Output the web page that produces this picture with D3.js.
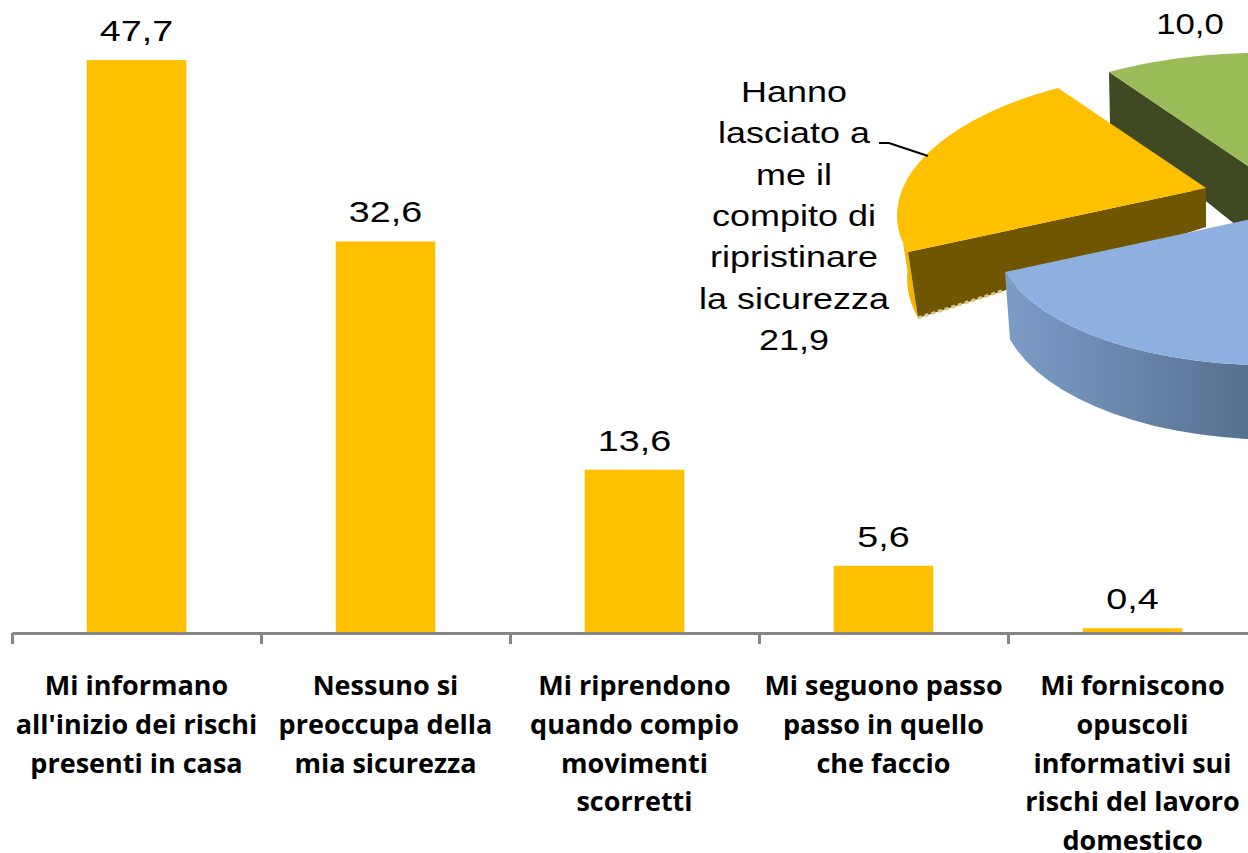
<!DOCTYPE html>
<meta charset="utf-8">
<style>
  body { margin: 0; background: #fff; }
  svg { display: block; }
  text { fill: #000; }
  .val { font-family: "Liberation Sans", sans-serif; font-size: 29px; }
  .cat { font-family: "Open Sans", sans-serif; font-weight: 700; font-size: 27px; }
</style>
<script src="https://d3js.org/d3.v7.min.js"></script>
<div id="chart"></div>
<script>
  // bar chart data
  var categories = [
    ["Mi informano", "all'inizio dei rischi", "presenti in casa"],
    ["Nessuno si", "preoccupa della", "mia sicurezza"],
    ["Mi riprendono", "quando compio", "movimenti", "scorretti"],
    ["Mi seguono passo", "passo in quello", "che faccio"],
    ["Mi forniscono", "opuscoli", "informativi sui", "rischi del lavoro", "domestico"]
  ];
  var barValues = [47.7, 32.6, 13.6, 5.6, 0.4];

  // pie data (clockwise, the blue slice runs off the page)
  var pieValues = [21.9, 10.0, 68.1];
  var pieLabelLines = ["Hanno", "lasciato a", "me il", "compito di", "ripristinare", "la sicurezza", "21,9"];
  var pieLabelGreen = "10,0";

  var width = 1248, height = 853;
  var baseY = 633, px = 12.01;

  var svg = d3.select("#chart").append("svg")
    .attr("width", width)
    .attr("height", height);

  var x = d3.scaleBand()
    .domain(d3.range(categories.length))
    .range([12, 1257])
    .paddingInner(0.6)
    .paddingOuter(0.3);
  var y = d3.scaleLinear()
    .domain([0, 50])
    .range([baseY, baseY - 50 * px]);

  function fmt(v) { return d3.format(".1f")(v).replace(".", ","); }

  // --- pie: a perspective map of the unit circle, fitted on the orange slice
  var startAngle = 250 * Math.PI / 180;
  var pie = d3.pie().sort(null).startAngle(startAngle).endAngle(startAngle + 2 * Math.PI);
  var arcs = pie(pieValues);

  function solve(A, b) {
    var n = b.length;
    A = A.map(function (r, i) { return r.concat(b[i]); });
    for (var i = 0; i < n; i++) {
      var p = i;
      for (var k = i + 1; k < n; k++) if (Math.abs(A[k][i]) > Math.abs(A[p][i])) p = k;
      var t = A[i]; A[i] = A[p]; A[p] = t;
      for (var k2 = i + 1; k2 < n; k2++) {
        var f = A[k2][i] / A[i][i];
        for (var j = i; j <= n; j++) A[k2][j] -= f * A[i][j];
      }
    }
    var out = new Array(n);
    for (var i2 = n - 1; i2 >= 0; i2--) {
      var s = A[i2][n];
      for (var j2 = i2 + 1; j2 < n; j2++) s -= A[i2][j2] * out[j2];
      out[i2] = s / A[i2][i2];
    }
    return out;
  }

  var a0 = arcs[0].startAngle, a1 = arcs[0].endAngle, am = (a0 + a1) / 2;
  var anchors = [
    [0, 0, 1206, 188],
    [Math.sin(a0), Math.cos(a0), 908, 252],
    [Math.sin(am), Math.cos(am), 926, 155],
    [Math.sin(a1), Math.cos(a1), 1058, 88]
  ];
  var rowsA = [], rowsB = [];
  anchors.forEach(function (q) {
    rowsA.push([q[0], q[1], 1, 0, 0, 0, -q[0] * q[2], -q[1] * q[2]]); rowsB.push(q[2]);
    rowsA.push([0, 0, 0, q[0], q[1], 1, -q[0] * q[3], -q[1] * q[3]]); rowsB.push(q[3]);
  });
  var H = solve(rowsA, rowsB);

  function project(angle, r) {
    var u = r * Math.sin(angle), v = r * Math.cos(angle);
    var w = H[6] * u + H[7] * v + 1;
    return [(H[0] * u + H[1] * v + H[2]) / w, (H[3] * u + H[4] * v + H[5]) / w];
  }

  // per slice look: explode offset, depth at the centre, lean of the underside, colours
  var sliceStyle = [
    { dx: 0, dy: 0, inner: 39, lean: 10, top: "#ffc000", face: "#705600", wall: "#f2b600" },
    { dx: 51, dy: -16, inner: 70, lean: 1, top: "#9bbb59", face: "#3f4a23", wall: "#3f4a23" },
    { dx: 97, dy: 20, inner: 60, lean: 5, top: "#8db0e0", face: "#6f8fb8", wall: "url(#blueWall)" }
  ];

  function rimDepth(yy) { return 47 + 0.075 * yy; }
  function topPt(i, angle, r) {
    var p = project(angle, r), s = sliceStyle[i];
    return [p[0] + s.dx, p[1] + s.dy];
  }
  function lowPt(i, angle, r) {
    var p = topPt(i, angle, r), s = sliceStyle[i];
    return [p[0] + r * s.lean, p[1] + s.inner + r * (rimDepth(p[1]) - s.inner)];
  }
  function rim(a, b) {
    return d3.range(0, 61).map(function (k) { return a + (b - a) * k / 60; });
  }

  var line = d3.line();
  var defs = svg.append("defs");
  var grad = defs.append("linearGradient")
    .attr("id", "blueWall")
    .attr("gradientUnits", "userSpaceOnUse")
    .attr("x1", 1005).attr("x2", 1248).attr("y1", 0).attr("y2", 0);
  grad.append("stop").attr("offset", 0).attr("stop-color", "#7c9cc8");
  grad.append("stop").attr("offset", 1).attr("stop-color", "#56708f");

  var pieG = svg.append("g");

  function cutFace(i, angle) {
    pieG.append("path")
      .attr("d", line([topPt(i, angle, 1), topPt(i, angle, 0), lowPt(i, angle, 0), lowPt(i, angle, 1)]) + "Z")
      .attr("fill", sliceStyle[i].face);
  }
  function wall(i, a, b) {
    var upper = rim(a, b).map(function (t) { return topPt(i, t, 1); });
    var lower = rim(a, b).reverse().map(function (t) { return lowPt(i, t, 1); });
    pieG.append("path")
      .attr("d", line(upper.concat(lower)) + "Z")
      .attr("fill", sliceStyle[i].wall);
  }
  function topFace(i, d) {
    var pts = [topPt(i, d.startAngle, 0)].concat(rim(d.startAngle, d.endAngle).map(function (t) { return topPt(i, t, 1); }));
    pieG.append("path")
      .attr("d", line(pts) + "Z")
      .attr("fill", sliceStyle[i].top);
  }

  // green behind, orange next, blue in front
  cutFace(1, arcs[1].startAngle);
  topFace(1, arcs[1]);
  wall(0, arcs[0].startAngle, arcs[0].startAngle + 0.3);
  cutFace(0, arcs[0].startAngle);
  pieG.append("path")
    .attr("d", line([lowPt(0, arcs[0].startAngle, 1), lowPt(0, arcs[0].startAngle, 0.72)]))
    .attr("fill", "none")
    .attr("stroke", "#d9c58a")
    .attr("stroke-width", 3)
    .attr("stroke-dasharray", "4 3");
  topFace(0, arcs[0]);
  wall(2, arcs[2].startAngle, arcs[2].endAngle);
  topFace(2, arcs[2]);

  // --- bars
  svg.selectAll("rect.bar")
    .data(barValues)
    .enter()
    .append("rect")
    .attr("class", "bar")
    .attr("x", function (d, i) { return x(i); })
    .attr("width", x.bandwidth())
    .attr("y", function (d) { return y(d); })
    .attr("height", function (d) { return baseY - y(d); })
    .attr("fill", "#ffc000");

  // axis with ticks between the categories
  var edges = d3.scaleLinear().domain([0, categories.length]).range(x.range());
  var axis = svg.append("g")
    .attr("transform", "translate(0," + baseY + ")")
    .call(d3.axisBottom(edges)
      .tickValues(d3.range(categories.length + 1))
      .tickFormat("")
      .tickSizeInner(11)
      .tickSizeOuter(0));
  axis.selectAll("path, line").attr("stroke", "#868686").attr("stroke-width", 3);

  // wide value labels
  function wideText(g, cx, by, str, sx) {
    g.append("text")
      .attr("class", "val")
      .attr("text-anchor", "middle")
      .attr("transform", "translate(" + cx + "," + by + ") scale(" + sx + ",1)")
      .text(str);
  }

  barValues.forEach(function (v, i) {
    wideText(svg, x(i) + x.bandwidth() / 2, y(v) - 19, fmt(v), 1.3);
  });

  // category labels
  categories.forEach(function (lines, i) {
    var t = svg.append("text")
      .attr("class", "cat")
      .attr("text-anchor", "middle");
    lines.forEach(function (s, k) {
      t.append("tspan")
        .attr("x", x(i) + x.bandwidth() / 2)
        .attr("y", 695 + k * 38.8)
        .text(s);
    });
  });

  // pie labels and leader
  pieLabelLines.forEach(function (s, k) {
    wideText(svg, 794, 102 + k * 41.3, s, 1.24);
  });
  wideText(svg, 1190, 34, pieLabelGreen, 1.2);
  svg.append("path")
    .attr("d", line([[879, 143], [889, 143], [928, 156]]))
    .attr("fill", "none")
    .attr("stroke", "#000")
    .attr("stroke-width", 2);
</script>
